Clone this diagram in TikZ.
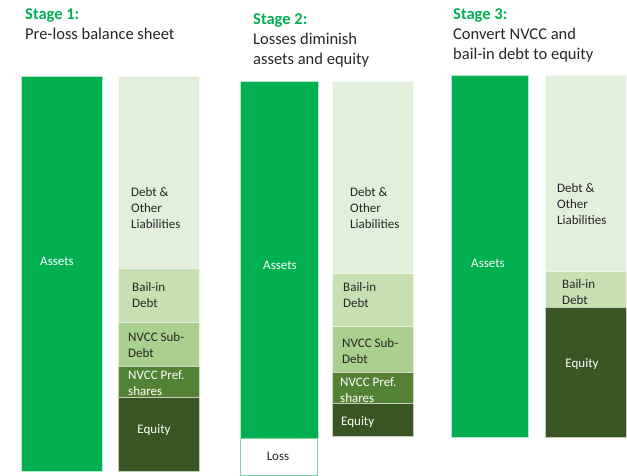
\documentclass[tikz,border=0pt]{standalone}
\usepackage{fontspec}
\setmainfont{Carlito}
\definecolor{assetgreen}{HTML}{00B050}
\definecolor{debtc}{HTML}{E2EFDA}
\definecolor{bailc}{HTML}{C6E0B4}
\definecolor{subc}{HTML}{A9D08E}
\definecolor{prefc}{HTML}{548235}
\definecolor{equityc}{HTML}{375623}
\definecolor{txtdark}{HTML}{262626}
\definecolor{lossedge}{HTML}{7FD3A3}
\begin{document}
\begin{tikzpicture}[x=1pt,y=-1pt,
  seg/.style={draw=white!70!#1,line width=0.6pt,fill=#1},
  lbl/.style={inner sep=0pt,align=left,font=\fontsize{13}{16.2}\selectfont,text=txtdark},
  lblw/.style={lbl,text=white},
  ttl/.style={inner sep=0pt,anchor=north west,align=left,font=\fontsize{16.5}{20}\selectfont,text=txtdark},
  stg/.style={ttl,font=\fontsize{16.5}{20}\selectfont\bfseries,text=assetgreen}]
\useasboundingbox (0,0) rectangle (627,476);
% ---- Stage 1
\node[stg] (t1a) at (25,8) {Stage 1:};
\node[ttl] (t1b) at (25,28) {Pre-loss balance sheet};
\draw[seg=assetgreen] (21,76) rectangle (102,471);
\draw[seg=debtc] (118,76) rectangle (199,268);
\draw[seg=bailc] (118,268) rectangle (199,322);
\draw[seg=subc] (118,322) rectangle (199,366);
\draw[seg=prefc] (118,366) rectangle (199,397);
\draw[seg=equityc] (118,397) rectangle (199,471);
\node[lblw] (a1) at (57,261) {Assets};
\node[lbl,anchor=west] (d1) at (131,208) {Debt \&\\Other\\Liabilities};
\node[lbl,anchor=west] (b1) at (132,295) {Bail-in\\Debt};
\node[lbl,anchor=west] (s1) at (128,345) {NVCC Sub-\\Debt};
\node[lblw,anchor=west] (p1) at (128,383) {NVCC Pref.\\shares};
\node[lblw] (e1) at (154,430) {Equity};
% ---- Stage 2
\node[stg] (t2a) at (253,13) {Stage 2:};
\node[ttl] (t2b) at (253,33) {Losses diminish\\assets and equity};
\draw[seg=assetgreen] (240,81) rectangle (318,438);
\draw[draw=lossedge,line width=0.9pt,fill=white] (240.5,438) rectangle (317.5,475.5);
\draw[seg=debtc] (332,81) rectangle (413,273);
\draw[seg=bailc] (332,273) rectangle (413,326);
\draw[seg=subc] (332,326) rectangle (413,372);
\draw[seg=prefc] (332,372) rectangle (413,403);
\draw[seg=equityc] (332,403) rectangle (413,436);
\node[lblw] (a2) at (280,265) {Assets};
\node[lbl] (l2) at (278,456) {Loss};
\node[lbl,anchor=west] (d2) at (350,208) {Debt \&\\Other\\Liabilities};
\node[lbl,anchor=west] (b2) at (343,295) {Bail-in\\Debt};
\node[lbl,anchor=west] (s2) at (342,351) {NVCC Sub-\\Debt};
\node[lblw,anchor=west] (p2) at (340,390) {NVCC Pref.\\shares};
\node[lblw,anchor=west] (e2) at (341,422) {Equity};
% ---- Stage 3
\node[stg] (t3a) at (453,8) {Stage 3:};
\node[ttl] (t3b) at (453,28) {Convert NVCC and\\bail-in debt to equity};
\draw[seg=assetgreen] (451,75) rectangle (528,437);
\draw[seg=debtc] (545,75) rectangle (626,271);
\draw[seg=bailc] (545,271) rectangle (626,307);
\draw[seg=equityc] (545,307) rectangle (626,437);
\node[lblw] (a3) at (488,263) {Assets};
\node[lbl,anchor=west] (d3) at (557,204) {Debt \&\\Other\\Liabilities};
\node[lbl,anchor=west] (b3) at (562,292) {Bail-in\\Debt};
\node[lblw] (e3) at (582,364) {Equity};
\end{tikzpicture}
\end{document}
